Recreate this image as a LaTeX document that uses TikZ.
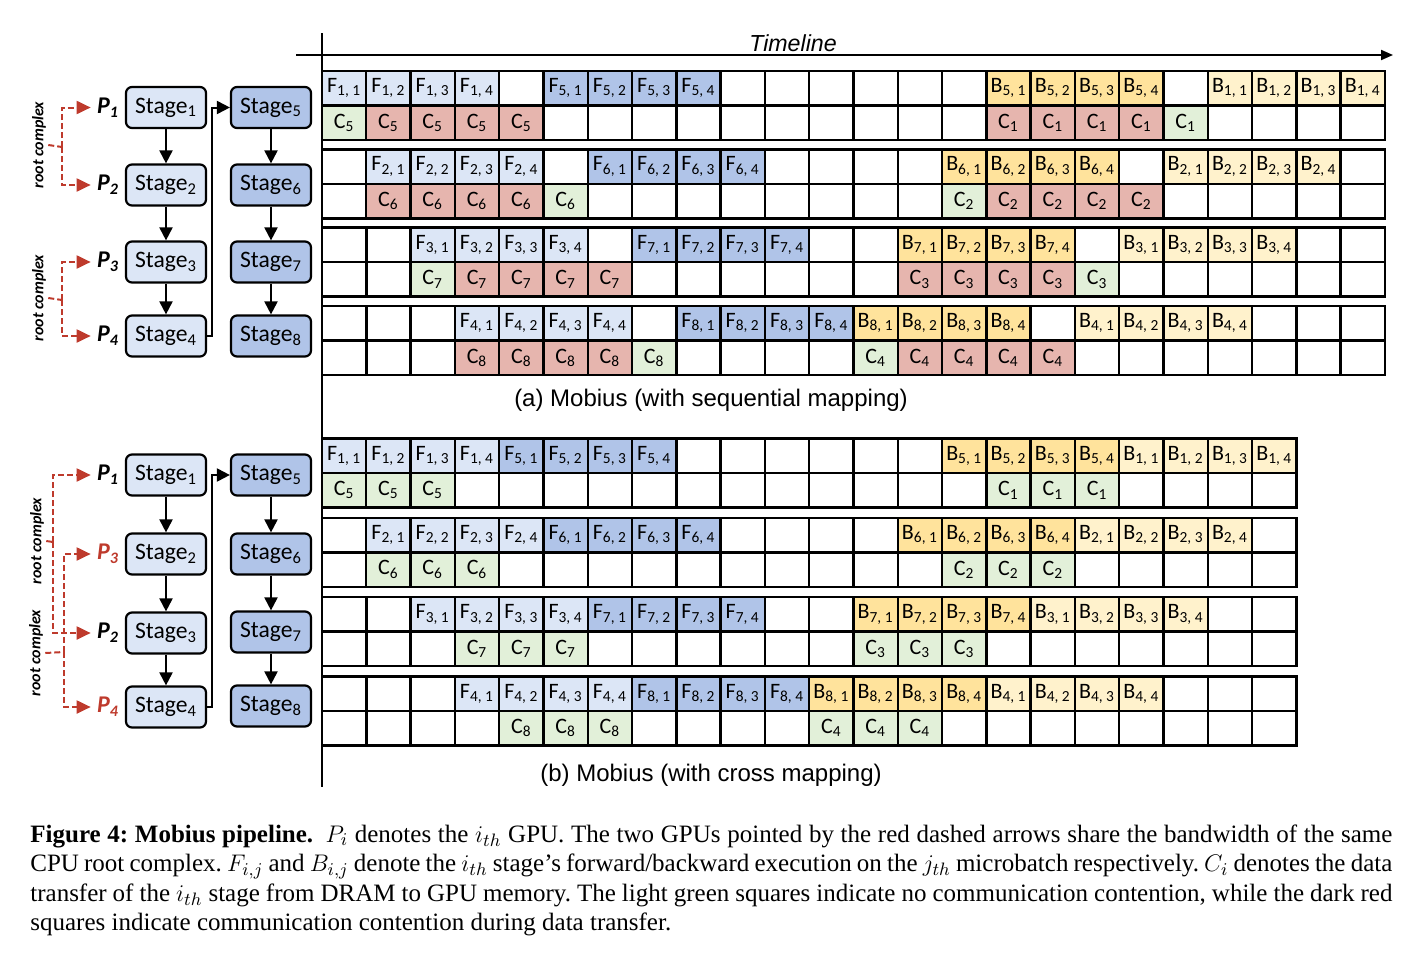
\documentclass[tikz,border=0pt]{standalone}
\usepackage{fontspec}
\setmainfont{Liberation Serif}
\newfontfamily\calibfont{Carlito}
\newfontfamily\helvfont{Liberation Sans}
\usetikzlibrary{arrows.meta}

\definecolor{fwdlight}{HTML}{DCE6F6}
\definecolor{fwddark}{HTML}{B0C4E8}
\definecolor{bwddark}{HTML}{FFE39C}
\definecolor{bwdlight}{HTML}{FFF2CC}
\definecolor{cgreen}{HTML}{E2F0D9}
\definecolor{cred}{HTML}{E6B5AE}
\definecolor{rootred}{HTML}{BE3A2C}

\tikzset{
  cell/.style={draw, line width=1.2pt, minimum width=22.15pt, minimum height=17.25pt,
    inner sep=0pt, font=\calibfont\fontsize{11}{12}\selectfont},
  fwdl/.style={fill=fwdlight}, fwdd/.style={fill=fwddark},
  bwdd/.style={fill=bwddark}, bwdl/.style={fill=bwdlight},
  cok/.style={fill=cgreen}, cbusy/.style={fill=cred},
  stagebox/.style={draw, line width=1.1pt, rounded corners=3pt, minimum width=40pt,
    minimum height=20.5pt, inner sep=1pt, font=\calibfont\fontsize{11.8}{13}\selectfont},
  plabel/.style={font=\calibfont\bfseries\itshape\fontsize{12}{14}\selectfont, inner sep=3pt},
  rootlabel/.style={rotate=90, inner sep=1pt, font=\calibfont\bfseries\itshape\fontsize{8}{9}\selectfont},
  rootline/.style={rootred, line width=1pt, dash pattern=on 3pt off 1.5pt},
  rootarrow/.style={rootline, -{Triangle[length=7pt,width=6.5pt]}},
  flow/.style={line width=1pt, -{Triangle[length=6.5pt,width=6.5pt]}},
}

\begin{document}
\begin{tikzpicture}[x=0.5pt, y=-0.5pt]
  \useasboundingbox (0,0) rectangle (1418,958);

  % timeline axes
  \coordinate (ax0) at (322,33);
  \coordinate (ax1) at (322,787);
  \coordinate (tl0) at (296,55);
  \coordinate (tl1) at (1393,55);
  \draw[line width=1pt] (ax0) -- (ax1);
  \draw[line width=1pt, -{Triangle[length=6pt,width=5pt]}] (tl0) -- (tl1);
  \node[font=\helvfont\itshape\fontsize{11.6}{14}\selectfont] (tltext) at (793,43) {Timeline};

  % (a) sequential mapping
  \foreach \g/\yt in {0/71,1/149.3,2/227.6,3/305.9}
    \foreach \c in {0,...,23} {
      \node[cell] (a\g-f\c) at ({322+(\c+.5)*44.29},{\yt+17.25}) {};
      \node[cell] (a\g-c\c) at ({322+(\c+.5)*44.29},{\yt+51.75}) {};
    }
  \foreach \g in {0,...,3} {
    \pgfmathtruncatemacro\lo{\g+1}
    \pgfmathtruncatemacro\hi{\g+5}
    \foreach \j in {1,...,4} {
      \pgfmathtruncatemacro\ca{\g+\j-1}
      \pgfmathtruncatemacro\cb{\g+\j+4}
      \pgfmathtruncatemacro\cc{14-\g+\j}
      \pgfmathtruncatemacro\cd{19-\g+\j}
      \node[cell,fwdl] (a\g-F\lo-\j) at (a\g-f\ca) {F\textsubscript{\lo, \j}};
      \node[cell,fwdd] (a\g-F\hi-\j) at (a\g-f\cb) {F\textsubscript{\hi, \j}};
      \node[cell,bwdd] (a\g-B\hi-\j) at (a\g-f\cc) {B\textsubscript{\hi, \j}};
      \node[cell,bwdl] (a\g-B\lo-\j) at (a\g-f\cd) {B\textsubscript{\lo, \j}};
    }
  }
  \foreach \g/\lo/\hi/\oka/\okb in {0/1/5/0/19,1/2/6/5/14,2/3/7/2/17,3/4/8/7/12}
    \foreach \k in {0,...,4} {
      \pgfmathtruncatemacro\ca{\g+\k}
      \pgfmathtruncatemacro\cb{15-\g+\k}
      \ifnum\ca=\oka \def\sta{cok}\else\def\sta{cbusy}\fi
      \ifnum\cb=\okb \def\stb{cok}\else\def\stb{cbusy}\fi
      \node[cell,\sta] (a\g-C\hi-\k) at (a\g-c\ca) {C\textsubscript{\hi}};
      \node[cell,\stb] (a\g-C\lo-\k) at (a\g-c\cb) {C\textsubscript{\lo}};
    }
  \node[font=\helvfont\fontsize{12}{14}\selectfont] (capa) at (711,400)
    {(a) Mobius (with sequential mapping)};

  % (b) cross mapping
  \foreach \g/\yt in {0/438.5,1/517.8,2/597.1,3/676.4}
    \foreach \c in {0,...,21} {
      \node[cell] (b\g-f\c) at ({322+(\c+.5)*44.29},{\yt+17.25}) {};
      \node[cell] (b\g-c\c) at ({322+(\c+.5)*44.29},{\yt+51.75}) {};
    }
  \foreach \g in {0,...,3} {
    \pgfmathtruncatemacro\lo{\g+1}
    \pgfmathtruncatemacro\hi{\g+5}
    \foreach \j in {1,...,4} {
      \pgfmathtruncatemacro\ca{\g+\j-1}
      \pgfmathtruncatemacro\cb{\g+\j+3}
      \pgfmathtruncatemacro\cc{13-\g+\j}
      \pgfmathtruncatemacro\cd{17-\g+\j}
      \node[cell,fwdl] (b\g-F\lo-\j) at (b\g-f\ca) {F\textsubscript{\lo, \j}};
      \node[cell,fwdd] (b\g-F\hi-\j) at (b\g-f\cb) {F\textsubscript{\hi, \j}};
      \node[cell,bwdd] (b\g-B\hi-\j) at (b\g-f\cc) {B\textsubscript{\hi, \j}};
      \node[cell,bwdl] (b\g-B\lo-\j) at (b\g-f\cd) {B\textsubscript{\lo, \j}};
    }
  }
  \foreach \g/\lo/\hi/\sa/\sb in {0/1/5/0/15,1/2/6/1/14,2/3/7/3/12,3/4/8/4/11}
    \foreach \k in {0,1,2} {
      \pgfmathtruncatemacro\ca{\sa+\k}
      \pgfmathtruncatemacro\cb{\sb+\k}
      \node[cell,cok] (b\g-C\hi-\k) at (b\g-c\ca) {C\textsubscript{\hi}};
      \node[cell,cok] (b\g-C\lo-\k) at (b\g-c\cb) {C\textsubscript{\lo}};
    }
  \node[font=\helvfont\fontsize{12}{14}\selectfont] (capb) at (711,775)
    {(b) Mobius (with cross mapping)};

  % stages, sequential mapping
  \foreach \i/\y in {1/107.5,2/185,3/262,4/336} {
    \node[stagebox, fill=fwdlight] (sa\i) at (166,\y) {Stage\textsubscript{\i}};
    \node[plabel] (pa\i) at (108,\y) {P\textsubscript{\i}};
  }
  \foreach \i/\y in {5/107.5,6/185,7/262,8/336}
    \node[stagebox, fill=fwddark] (sa\i) at (271,\y) {Stage\textsubscript{\i}};
  \draw[flow] (sa1) -- (sa2);
  \draw[flow] (sa2) -- (sa3);
  \draw[flow] (sa3) -- (sa4);
  \draw[flow] (sa5) -- (sa6);
  \draw[flow] (sa6) -- (sa7);
  \draw[flow] (sa7) -- (sa8);
  \draw[flow] (sa4.east) -- ++(5,0) |- (sa5.west);

  \node[rootlabel] (rca1) at (39,145) {root complex};
  \node[rootlabel] (rca2) at (39,298) {root complex};
  \coordinate (ja1) at (62,147);
  \coordinate (ja2) at (62,300);
  \draw[rootline] (rca1.south) -- (ja1);
  \draw[rootline] (rca2.south) -- (ja2);
  \draw[rootarrow] (ja1) |- (pa1);
  \draw[rootarrow] (ja1) |- (pa2);
  \draw[rootarrow] (ja2) |- (pa3);
  \draw[rootarrow] (ja2) |- (pa4);

  % stages, cross mapping
  \foreach \i/\y in {1/475,2/554,3/633,4/707}
    \node[stagebox, fill=fwdlight] (sb\i) at (166,\y) {Stage\textsubscript{\i}};
  \foreach \i/\y in {5/475,6/554,7/632,8/706}
    \node[stagebox, fill=fwddark] (sb\i) at (271,\y) {Stage\textsubscript{\i}};
  \node[plabel] (pb1) at (108,475) {P\textsubscript{1}};
  \node[plabel, text=rootred] (pb3) at (108,554) {P\textsubscript{3}};
  \node[plabel] (pb2) at (108,633) {P\textsubscript{2}};
  \node[plabel, text=rootred] (pb4) at (108,707) {P\textsubscript{4}};
  \draw[flow] (sb1) -- (sb2);
  \draw[flow] (sb2) -- (sb3);
  \draw[flow] (sb3) -- (sb4);
  \draw[flow] (sb5) -- (sb6);
  \draw[flow] (sb6) -- (sb7);
  \draw[flow] (sb7) -- (sb8);
  \draw[flow] (sb4.east) -- ++(5,0) |- (sb5.west);

  \node[rootlabel] (rcb1) at (37,541) {root complex};
  \node[rootlabel] (rcb2) at (36,653) {root complex};
  \coordinate (jb1) at (53,542);
  \coordinate (jb2) at (64,652);
  \draw[rootline] (rcb1.south) -- (jb1);
  \draw[rootline] (rcb2.south) -- (jb2);
  \draw[rootarrow] (jb1) |- (pb1);
  \draw[rootarrow] (jb1) |- (pb2);
  \draw[rootarrow] (jb2) |- (pb3);
  \draw[rootarrow] (jb2) |- (pb4);

  % caption
  \node[anchor=north west, text width=681pt, align=justify, inner sep=0pt,
    font=\fontsize{12.5}{14.75}\selectfont\frenchspacing] (caption) at (30,824)
    {\textbf{Figure 4: Mobius pipeline.}\enspace $P_i$ denotes the $i_{th}$ GPU. The two GPUs
     pointed by the red dashed arrows share the bandwidth of the same\linebreak
     CPU root complex. $F_{i,j}$ and $B_{i,j}$ denote the $i_{th}$ stage's forward/backward
     execution on the $j_{th}$ microbatch respectively. $C_i$ denotes the data\linebreak
     transfer of the $i_{th}$ stage from DRAM to GPU memory. The light green squares indicate
     no communication contention, while the dark red\linebreak
     squares indicate communication contention during data transfer.};
\end{tikzpicture}
\end{document}
